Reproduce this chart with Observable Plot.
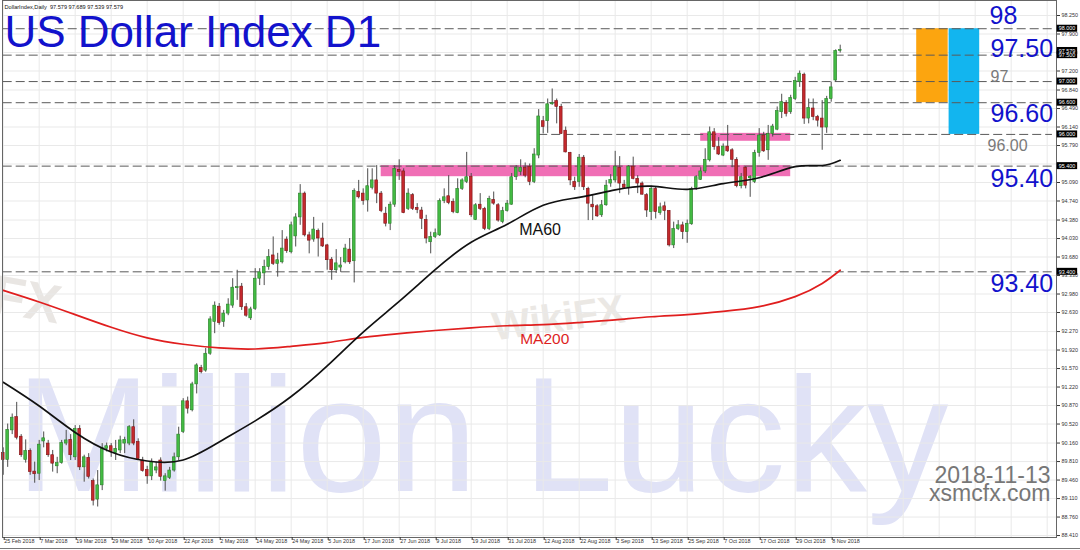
<!DOCTYPE html>
<html>
<head>
<meta charset="utf-8">
<script src="https://cdn.jsdelivr.net/npm/d3@7"></script>
<script src="https://cdn.jsdelivr.net/npm/@observablehq/plot@0.6"></script>
<style>
  html, body { margin: 0; padding: 0; background: #fff; }
  #chart { width: 1080px; height: 550px; overflow: hidden; }
  #chart svg { display: block; font-family: "Liberation Sans", Arial, sans-serif; }
</style>
</head>
<body>
<div id="chart"></div>
<script>
// ---- Daily OHLC bars, US Dollar Index, 25 Feb 2018 .. 13 Nov 2018 ----
const open = [
  89.97, 89.84, 90.40, 90.65, 90.28, 89.84, 90.01, 89.62, 89.58, 90.19,
  90.15, 89.93, 89.72, 89.78, 90.15, 90.22, 89.89, 90.43, 89.70, 89.88,
  89.44, 89.09, 89.36, 90.05, 90.10, 89.97, 90.02, 90.15, 90.15, 90.46,
  90.18, 89.83, 89.65, 89.53, 89.64, 89.83, 89.44, 89.50, 89.64, 89.89,
  90.37, 90.95, 90.78, 91.27, 91.58, 91.53, 91.85, 92.45, 92.74, 92.45,
  92.61, 92.76, 93.09, 93.12, 92.73, 92.52, 92.70, 93.27, 93.37, 93.49,
  93.71, 93.55, 93.58, 94.01, 93.77, 94.07, 94.43, 94.88, 94.09, 94.01,
  94.17, 94.03, 93.90, 93.63, 93.43, 93.48, 93.58, 93.82, 93.60, 94.91,
  94.88, 94.75, 94.99, 95.13, 94.88, 94.50, 94.31, 94.67, 95.33, 95.30,
  94.59, 94.85, 94.61, 94.56, 94.38, 93.96, 94.06, 94.09, 94.74, 94.83,
  94.72, 94.51, 94.97, 95.10, 95.20, 94.38, 94.67, 94.59, 94.21, 94.76,
  94.66, 94.34, 94.55, 94.67, 95.19, 95.29, 95.37, 95.38, 95.10, 95.60,
  96.25, 96.25, 96.57, 96.63, 96.52, 96.07, 95.65, 95.10, 95.10, 95.56,
  94.97, 94.67, 94.64, 94.47, 94.66, 95.07, 95.13, 95.37, 95.05, 94.99,
  95.39, 95.16, 95.07, 94.85, 94.53, 94.97, 94.51, 94.64, 94.55, 93.90,
  94.21, 94.28, 94.15, 94.30, 94.99, 95.14, 95.30, 95.51, 96.04, 95.76,
  95.60, 95.77, 95.70, 95.52, 95.02, 95.37, 95.17, 95.10, 95.65, 95.98,
  95.70, 96.01, 96.09, 96.42, 96.59, 96.42, 96.67, 96.99, 97.13, 96.30,
  96.49, 96.33, 96.30, 96.13, 96.67, 97.02, 97.579
];
const high = [
  90.07, 90.52, 90.71, 90.93, 90.32, 90.22, 90.05, 89.80, 90.21, 90.37,
  90.21, 90.02, 89.89, 90.21, 90.40, 90.32, 90.49, 90.49, 89.93, 89.96,
  89.48, 89.64, 90.15, 90.16, 90.15, 90.21, 90.29, 90.27, 90.49, 90.60,
  90.24, 89.89, 89.72, 89.86, 89.80, 89.88, 89.58, 89.70, 89.97, 90.46,
  91.00, 91.03, 91.31, 91.66, 91.63, 91.95, 92.55, 92.83, 92.80, 92.67,
  92.89, 93.27, 93.43, 93.18, 92.80, 92.73, 93.46, 93.46, 93.62, 93.82,
  94.06, 93.75, 94.18, 94.06, 94.34, 94.50, 95.05, 94.91, 94.15, 94.43,
  94.21, 94.32, 93.92, 93.67, 93.82, 93.67, 93.92, 94.03, 94.97, 95.13,
  94.97, 95.35, 95.35, 95.41, 94.92, 94.62, 94.72, 95.41, 95.52, 95.35,
  94.97, 94.88, 94.69, 94.62, 94.47, 94.15, 94.21, 94.78, 94.97, 95.22,
  94.78, 95.16, 95.16, 95.66, 95.26, 94.69, 94.88, 94.62, 94.83, 94.91,
  94.69, 94.62, 94.75, 95.26, 95.41, 95.52, 95.46, 95.44, 95.73, 96.47,
  96.34, 96.67, 96.86, 96.67, 96.57, 96.14, 95.66, 95.19, 95.62, 95.60,
  95.00, 94.85, 94.67, 94.75, 95.13, 95.24, 95.68, 95.58, 95.13, 95.41,
  95.57, 95.22, 95.10, 94.88, 95.02, 95.00, 94.70, 94.72, 94.56, 94.34,
  94.37, 94.34, 94.38, 95.00, 95.22, 95.37, 95.73, 96.14, 96.11, 95.94,
  95.82, 96.17, 95.73, 95.56, 95.26, 95.39, 95.22, 95.70, 96.11, 96.04,
  96.17, 96.19, 96.52, 96.76, 96.64, 96.74, 97.08, 97.20, 97.16, 96.67,
  96.67, 96.36, 96.64, 96.72, 96.99, 97.60, 97.689
];
const low = [
  89.55, 89.70, 90.32, 90.22, 89.89, 89.78, 89.55, 89.40, 89.45, 90.07,
  89.89, 89.61, 89.58, 89.76, 90.11, 89.83, 89.83, 89.64, 89.42, 89.48,
  88.97, 88.95, 89.26, 89.99, 89.89, 89.83, 89.96, 89.96, 90.11, 90.11,
  89.83, 89.61, 89.38, 89.45, 89.58, 89.44, 89.25, 89.47, 89.61, 89.83,
  90.34, 90.71, 90.75, 91.09, 91.47, 91.50, 91.82, 92.23, 92.39, 92.35,
  92.57, 92.71, 92.86, 92.67, 92.54, 92.48, 92.67, 93.14, 93.14, 93.43,
  93.52, 93.30, 93.55, 93.75, 93.74, 93.87, 94.28, 94.06, 93.74, 93.96,
  93.68, 93.86, 93.43, 93.24, 93.37, 93.39, 93.55, 93.54, 93.19, 94.78,
  94.66, 94.53, 94.95, 94.69, 94.52, 94.25, 94.18, 94.62, 95.13, 94.50,
  94.56, 94.56, 94.50, 94.20, 93.93, 93.74, 94.03, 94.07, 94.69, 94.67,
  94.50, 94.50, 94.94, 95.07, 94.43, 94.37, 94.56, 94.18, 94.18, 94.66,
  94.34, 94.31, 94.53, 94.66, 95.13, 95.22, 95.18, 95.03, 95.07, 95.54,
  96.01, 96.02, 96.55, 96.20, 96.00, 95.65, 95.03, 94.94, 95.00, 94.94,
  94.37, 94.37, 94.43, 94.43, 94.64, 95.00, 95.08, 94.88, 94.97, 94.85,
  95.14, 94.88, 94.85, 94.43, 94.37, 94.40, 94.47, 94.37, 93.87, 93.84,
  94.18, 94.01, 93.94, 94.28, 94.94, 95.13, 95.26, 95.48, 95.70, 95.60,
  95.58, 95.66, 95.37, 94.99, 94.97, 94.97, 94.81, 95.07, 95.57, 95.66,
  95.51, 95.95, 96.07, 96.30, 96.33, 96.38, 96.64, 96.89, 96.19, 96.20,
  96.26, 96.14, 95.70, 96.02, 96.61, 96.99, 97.539
];
const close = [
  89.84, 90.41, 90.64, 90.26, 89.93, 90.01, 89.61, 89.57, 90.13, 90.25,
  89.93, 89.77, 89.78, 90.16, 90.21, 89.93, 90.43, 89.70, 89.89, 89.52,
  89.07, 89.36, 90.07, 90.10, 89.99, 90.05, 90.21, 90.22, 90.46, 90.15,
  89.86, 89.63, 89.53, 89.80, 89.70, 89.52, 89.53, 89.64, 89.89, 90.32,
  90.95, 90.81, 91.27, 91.63, 91.50, 91.85, 92.50, 92.76, 92.43, 92.61,
  92.78, 93.10, 93.11, 92.73, 92.57, 92.69, 93.27, 93.39, 93.49, 93.68,
  93.55, 93.62, 93.84, 93.79, 94.28, 94.43, 94.88, 94.09, 93.99, 94.20,
  94.03, 93.88, 93.62, 93.43, 93.56, 93.52, 93.84, 93.58, 94.93, 94.81,
  94.74, 95.02, 95.13, 94.88, 94.55, 94.31, 94.67, 95.35, 95.29, 94.51,
  94.88, 94.59, 94.57, 94.40, 94.03, 94.06, 94.13, 94.74, 94.81, 94.70,
  94.53, 94.97, 95.13, 95.19, 94.47, 94.66, 94.59, 94.21, 94.78, 94.69,
  94.37, 94.55, 94.69, 95.19, 95.37, 95.37, 95.22, 95.10, 95.62, 96.34,
  96.14, 96.57, 96.59, 96.52, 96.01, 95.66, 95.13, 95.00, 95.56, 95.00,
  94.69, 94.62, 94.45, 94.66, 95.03, 95.14, 95.39, 95.07, 94.99, 95.39,
  95.16, 95.07, 94.86, 94.56, 94.97, 94.53, 94.62, 94.55, 93.90, 94.21,
  94.28, 94.15, 94.31, 94.97, 95.19, 95.30, 95.52, 96.04, 95.76, 95.62,
  95.77, 95.68, 95.52, 95.02, 95.19, 95.03, 95.20, 95.65, 95.98, 95.68,
  96.01, 96.15, 96.44, 96.61, 96.39, 96.69, 97.01, 97.15, 96.30, 96.50,
  96.33, 96.26, 96.13, 96.67, 96.89, 97.579, 97.579
];

// Date labels, one every 8 bars
const dateLabels = [
  "25 Feb 2018", "7 Mar 2018", "19 Mar 2018", "29 Mar 2018", "10 Apr 2018",
  "22 Apr 2018", "2 May 2018", "14 May 2018", "24 May 2018", "5 Jun 2018",
  "17 Jun 2018", "27 Jun 2018", "9 Jul 2018", "19 Jul 2018", "31 Jul 2018",
  "12 Aug 2018", "22 Aug 2018", "3 Sep 2018", "13 Sep 2018", "25 Sep 2018",
  "7 Oct 2018", "17 Oct 2018", "29 Oct 2018", "8 Nov 2018"
];
const labelEvery = 8;

// Moving averages sampled at bar indices
const maBars = [0, 8, 16, 24, 32, 40, 48, 56, 64, 72, 80, 88, 96, 104, 112, 120, 128, 136, 144, 152, 160, 168, 176, 182, 186];
const ma60 = [91.31, 90.86, 90.36, 89.99, 89.82, 89.84, 90.18, 90.58, 91.04, 91.62, 92.26, 92.84, 93.44, 93.96, 94.30, 94.66, 94.81, 94.95, 95.02, 94.96, 95.07, 95.18, 95.39, 95.41, 95.51];
const ma200 = [93.05, 92.83, 92.59, 92.35, 92.15, 92.03, 91.96, 91.94, 91.99, 92.06, 92.16, 92.23, 92.29, 92.34, 92.38, 92.40, 92.44, 92.49, 92.55, 92.59, 92.65, 92.74, 92.93, 93.18, 93.43];

// Key price levels (dashed lines), the bar each starts from, and their captions
const levels = [98.0, 97.5, 97.0, 96.6, 96.0, 95.4, 93.4];
const levelStartBar = [0, 0, 0, 0, 119, 0, 0];
const levelCaptions = ["98", "97.50", "97", "96.60", "96.00", "95.40", "93.40"];

// Support / resistance zones: first bar, last bar, low, high
const zoneFrom = [84, 155];
const zoneTo = [175, 175];
const zoneLow = [95.20, 95.87];
const zoneHigh = [95.41, 96.02];

// Target ranges shown right of the last bar
const targetLow = [96.6, 96.0];
const targetHigh = [98.0, 98.0];

// Right-axis price ticks
const priceTicks = [98.25, 97.90, 97.55, 97.20, 96.84, 96.49, 96.14, 95.79, 95.44, 95.09, 94.74, 94.38, 94.03,
  93.68, 93.33, 92.98, 92.63, 92.27, 91.92, 91.57, 91.22, 90.87, 90.52, 90.16, 89.81, 89.46, 89.11, 88.76, 88.41];
const hiddenTickLabels = [97.55, 95.44];

const symbol = "DollarIndex", timeframe = "Daily";
const chartTitle = "US Dollar Index D1";
const stampDate = "2018-11-13";
const stampSite = "xsmcfx.com";
const watermark = "Million Lucky";

// ---- layout ----
const W = 1080, H = 550;
const mL = 2, mR = 24, mT = 0, mB = 13;
const barStep = 4.5, firstBarX = 2.7;
const xDomain = [(mL - firstBarX) / barStep, (W - mR - firstBarX) / barStep];
const yDomain = [88.373, 98.534];

const blue = "#1212cc";
const grey = "#7a7a7a";
const bullFill = "#43bb43", bullEdge = "#2a7f2a";
const bearFill = "#c4292d", bearEdge = "#7c1417";

const n = open.length;
const lastBar = n - 1;
const bars = open.map((o, i) => ({i, o, h: high[i], l: low[i], c: close[i]}));
const isUp = d => d.c >= d.o;
const minBody = 0.02;

const ma60Data = maBars.map((b, k) => ({i: b, v: ma60[k]}));
const ma200Data = maBars.map((b, k) => ({i: b, v: ma200[k]}));
const levelData = levels.map((v, k) => ({v, from: levelStartBar[k], text: levelCaptions[k]}));
const zones = zoneFrom.map((f, k) => ({from: f, to: zoneTo[k], lo: zoneLow[k], hi: zoneHigh[k]}));
const targets = targetLow.map((lo, k) => ({lo, hi: targetHigh[k], k}));
const labelBars = dateLabels.map((_, k) => k * labelEvery);
const gridBars = d3.range(0, xDomain[1], labelEvery);
const lineEnd = xDomain[1] - 0.9;

// price boxes on the right axis (levels plus current close)
const lastClose = close[lastBar];
const boxValues = [98.0, lastClose, 97.5, 97.0, 96.6, 96.0, 95.4, 93.4];

const captionStyle = {
  "98":    {size: 25, color: blue, anchor: "bottom", dy: -5, dx: -67},
  "97.50": {size: 25, color: blue, anchor: "bottom", dy: 2, dx: -66},
  "97":    {size: 16, color: grey, anchor: "bottom", dy: 0, dx: -66},
  "96.60": {size: 25, color: blue, anchor: "top", dy: 2, dx: -66},
  "96.00": {size: 16, color: grey, anchor: "top", dy: 5, dx: -69},
  "95.40": {size: 25, color: blue, anchor: "top", dy: 3, dx: -66},
  "93.40": {size: 25, color: blue, anchor: "top", dy: 2, dx: -66}
};

const captionMarks = levelData.map(d => {
  const s = captionStyle[d.text];
  return Plot.text([d], {
    y: "v", text: "text", frameAnchor: "right", dx: s.dx, dy: s.dy,
    textAnchor: "start", lineAnchor: s.anchor, fontSize: s.size, fill: s.color
  });
});

const chart = Plot.plot({
  width: W, height: H,
  marginLeft: mL, marginRight: mR, marginTop: mT, marginBottom: mB,
  style: {fontFamily: "Liberation Sans, Arial, sans-serif", background: "#fff", overflow: "visible"},
  x: {type: "linear", domain: xDomain, axis: null},
  y: {type: "linear", domain: yDomain, axis: null},
  marks: [
    // watermark lettering
    Plot.text([watermark], {frameAnchor: "bottom-left", dx: 13, dy: -47, textAnchor: "start", lineAnchor: "bottom",
      fontSize: 163, fill: "#e0e2f6"}),
    Plot.text(["WikiFX"], {frameAnchor: "top-left", dx: 556, dy: 318, rotate: -8, textAnchor: "middle", lineAnchor: "middle",
      fontSize: 40, fontWeight: "bold", fill: "#ebe8e4"}),
    Plot.text(["FX"], {frameAnchor: "top-left", dx: 24, dy: 300, rotate: 10, textAnchor: "middle", lineAnchor: "middle",
      fontSize: 54, fontWeight: "bold", fill: "#e9e6e3"}),

    // grid
    Plot.ruleY(priceTicks, {stroke: "#e9e9e9", strokeWidth: 1}),
    Plot.ruleX(gridBars, {stroke: "#e9e9e9", strokeWidth: 1}),

    // zones and target ranges
    Plot.rect(zones, {x1: "from", x2: "to", y1: "lo", y2: "hi", fill: "#f06eb5"}),
    Plot.rect(targets, {
      x1: d => lastBar + (d.k === 0 ? 17 : 24.2),
      x2: d => lastBar + (d.k === 0 ? 24 : 31),
      y1: "lo", y2: "hi",
      fill: d => d.k === 0 ? "#fca50f" : "#12b5ef"
    }),

    // dashed level lines
    Plot.ruleY(levelData, {y: "v", x1: "from", x2: lineEnd, stroke: "#5a5a5a", strokeWidth: 1, strokeDasharray: "9,4"}),

    // candles: wicks then bodies
    Plot.ruleX(bars, {x: "i", y1: "l", y2: "h", stroke: "#4d4d4d", strokeWidth: 1}),
    Plot.rect(bars, {
      x1: d => d.i - 0.31, x2: d => d.i + 0.31,
      y1: d => Math.min(d.o, d.c),
      y2: d => Math.max(d.o, d.c, Math.min(d.o, d.c) + minBody),
      fill: d => isUp(d) ? bullFill : bearFill,
      stroke: d => isUp(d) ? bullEdge : bearEdge,
      strokeWidth: 0.6
    }),

    // moving averages
    Plot.line(ma200Data, {x: "i", y: "v", stroke: "#e01e1e", strokeWidth: 1.7, curve: "natural"}),
    Plot.line(ma60Data, {x: "i", y: "v", stroke: "#111", strokeWidth: 1.7, curve: "natural"}),
    Plot.text([ma60Data[14]], {x: "i", y: "v", text: () => "MA60", dx: 12, dy: 11, textAnchor: "start", lineAnchor: "bottom",
      fontSize: 16, fill: "#111"}),
    Plot.text([ma200Data[14]], {x: "i", y: "v", text: () => "MA200", dx: 13, dy: 18, textAnchor: "start", lineAnchor: "bottom",
      fontSize: 15.5, fill: "#dd1f1f"}),

    // frame and axes
    Plot.frame({stroke: "#666", strokeWidth: 1}),
    Plot.axisY(priceTicks.filter(t => !hiddenTickLabels.includes(t)), {
      anchor: "right", tickSize: 3, tickPadding: 2, fontSize: 5.4, label: null,
      tickFormat: d => d.toFixed(3), color: "#333"
    }),
    Plot.axisX(labelBars, {
      anchor: "bottom", tickSize: 3, tickPadding: -1, fontSize: 5.4, label: null, textAnchor: "start", dx: 1,
      tickFormat: d => dateLabels[Math.round(d / labelEvery)], color: "#333"
    }),

    // price boxes on the axis
    Plot.rect(boxValues, {
      x1: xDomain[1] + 0.15, x2: xDomain[1] + 4.7,
      y1: d => d - 0.066, y2: d => d + 0.066, fill: "#000"
    }),
    Plot.text(boxValues, {
      x: xDomain[1] + 0.5, y: d => d, text: d => d.toFixed(3), fill: "#fff",
      fontSize: 5.4, textAnchor: "start", lineAnchor: "middle"
    }),

    // level captions
    ...captionMarks,

    // headings
    Plot.text([`${symbol},${timeframe}  ${open[lastBar].toFixed(3)} ${high[lastBar].toFixed(3)} ${low[lastBar].toFixed(3)} ${close[lastBar].toFixed(3)}`], {
      frameAnchor: "top-left", dx: 2, dy: 8, textAnchor: "start", lineAnchor: "bottom", fontSize: 5.6, fill: "#111"
    }),
    Plot.text([chartTitle], {frameAnchor: "top-left", dx: 2, dy: 46, textAnchor: "start", lineAnchor: "bottom",
      fontSize: 44, fill: blue}),
    Plot.text([stampDate], {frameAnchor: "bottom-right", dx: -6, dy: -55, textAnchor: "end", lineAnchor: "bottom",
      fontSize: 23, fill: "#777"}),
    Plot.text([stampSite], {frameAnchor: "bottom-right", dx: -6, dy: -37, textAnchor: "end", lineAnchor: "bottom",
      fontSize: 23, fill: "#777"})
  ]
});

// lower border under the date row
d3.select(chart).append("line")
  .attr("x1", 0).attr("x2", W).attr("y1", H - 1.5).attr("y2", H - 1.5)
  .attr("stroke", "#777").attr("stroke-width", 1);

document.getElementById("chart").appendChild(chart);
</script>
</body>
</html>
